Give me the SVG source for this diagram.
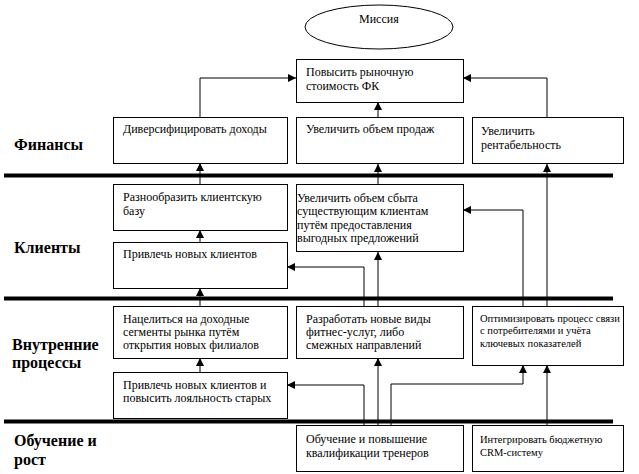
<svg xmlns="http://www.w3.org/2000/svg" width="639" height="474" viewBox="0 0 639 474">
<style>
.box{fill:#fff;stroke:#000;stroke-width:1}
.t{font-family:'Liberation Serif','Times New Roman','DejaVu Serif',serif;font-size:12px;fill:#000}
.s{font-family:'Liberation Serif','Times New Roman','DejaVu Serif',serif;font-size:10.5px;fill:#000}
.lane{font-family:'Liberation Serif','Times New Roman','DejaVu Serif',serif;font-size:16px;font-weight:bold;fill:#000}
.sep{stroke:#000;stroke-width:4}
.c{fill:none;stroke:#000;stroke-width:1;marker-end:url(#ah)}
</style>
<defs>
<marker id="ah" markerWidth="8" markerHeight="8" refX="8" refY="4" orient="auto" markerUnits="userSpaceOnUse">
<path d="M0,0 L8,4 L0,8 z" fill="#000"/>
</marker>
</defs>
<rect width="639" height="474" fill="#fff"/>
<g id="separators">
<line class="sep" x1="4" y1="175.5" x2="613" y2="175.5"/>
<line class="sep" x1="4" y1="298.5" x2="613" y2="298.5"/>
<line class="sep" x1="4" y1="421.5" x2="613" y2="421.5"/>
</g>
<g id="lanes">
<text class="lane" x="14" y="150">Финансы</text>
<text class="lane" x="14" y="253">Клиенты</text>
<text class="lane" x="12" y="350">Внутренние</text>
<text class="lane" x="12" y="368">процессы</text>
<text class="lane" x="14" y="446">Обучение и</text>
<text class="lane" x="14" y="465">рост</text>
</g>
<g id="connectors">
<path class="c" d="M200,117 V78 H296"/>
<path class="c" d="M378,117 V102"/>
<path class="c" d="M547,117 V78 H463"/>
<path class="c" d="M200,184 V163"/>
<path class="c" d="M378,184 V164"/>
<path class="c" d="M547,306 V164"/>
<path class="c" d="M523,306 V210 H463"/>
<path class="c" d="M200,242 V230"/>
<path class="c" d="M364,306 V267 H287"/>
<path class="c" d="M378,306 V252"/>
<path class="c" d="M200,306 V288"/>
<path class="c" d="M200,372 V358"/>
<path class="c" d="M364,425 V385 H287"/>
<path class="c" d="M378,425 V358"/>
<path class="c" d="M391,425 V384 H523 V365"/>
<path class="c" d="M547,425 V365"/>
</g>
<g id="mission">
<ellipse class="box" cx="379" cy="27" rx="74" ry="22"/>
<text class="t" x="359" y="23">Миссия</text>
</g>
<g id="market-value">
<rect class="box" x="296.5" y="59.5" width="167" height="43"/>
<text class="t" x="306" y="76">Повысить рыночную</text>
<text class="t" x="306" y="90">стоимость  ФК</text>
</g>
<g id="diversify">
<rect class="box" x="113.5" y="117.5" width="174" height="46"/>
<text class="t" x="123" y="133">Диверсифицировать доходы</text>
</g>
<g id="sales">
<rect class="box" x="296.5" y="117.5" width="167" height="46"/>
<text class="t" x="306" y="133">Увеличить объем продаж</text>
</g>
<g id="profit">
<rect class="box" x="472.5" y="117.5" width="151" height="46"/>
<text class="t" x="481" y="135">Увеличить</text>
<text class="t" x="481" y="149">рентабельность</text>
</g>
<g id="client-base">
<rect class="box" x="113.5" y="184.5" width="174" height="46"/>
<text class="t" x="123" y="201">Разнообразить клиентскую</text>
<text class="t" x="123" y="215">базу</text>
</g>
<g id="existing-clients">
<rect class="box" x="296.5" y="184.5" width="167" height="67"/>
<text class="t" x="297" y="202">Увеличить объем сбыта</text>
<text class="t" x="297" y="215">существующим клиентам</text>
<text class="t" x="297" y="229">путём предоставления</text>
<text class="t" x="297" y="242">выгодных предложений</text>
</g>
<g id="new-clients">
<rect class="box" x="113.5" y="242.5" width="174" height="46"/>
<text class="t" x="123" y="258">Привлечь новых клиентов</text>
</g>
<g id="segments">
<rect class="box" x="113.5" y="306.5" width="174" height="52"/>
<text class="t" x="123" y="323">Нацелиться на доходные</text>
<text class="t" x="123" y="336">сегменты  рынка путём</text>
<text class="t" x="123" y="349">открытия новых  филиалов</text>
</g>
<g id="fitness">
<rect class="box" x="296.5" y="306.5" width="167" height="52"/>
<text class="t" x="306" y="323">Разработать новые виды</text>
<text class="t" x="306" y="336">фитнес-услуг, либо</text>
<text class="t" x="306" y="349">смежных  направлений</text>
</g>
<g id="optimize">
<rect class="box" x="472.5" y="306.5" width="151" height="59"/>
<text class="s" x="480" y="322">Оптимизировать процесс связи</text>
<text class="s" x="480" y="334">с потребителями и учёта</text>
<text class="s" x="480" y="347">ключевых показателей</text>
</g>
<g id="loyalty">
<rect class="box" x="113.5" y="372.5" width="174" height="46"/>
<text class="t" x="123" y="389">Привлечь новых клиентов и</text>
<text class="t" x="123" y="402">повысить лояльность старых</text>
</g>
<g id="training">
<rect class="box" x="296.5" y="425.5" width="167" height="46"/>
<text class="t" x="306" y="443">Обучение и повышение</text>
<text class="t" x="306" y="457">квалификации  тренеров</text>
</g>
<g id="crm">
<rect class="box" x="472.5" y="425.5" width="151" height="46"/>
<text class="s" x="480" y="443">Интегрировать бюджетную</text>
<text class="s" x="480" y="456">CRM-систему</text>
</g>
</svg>
